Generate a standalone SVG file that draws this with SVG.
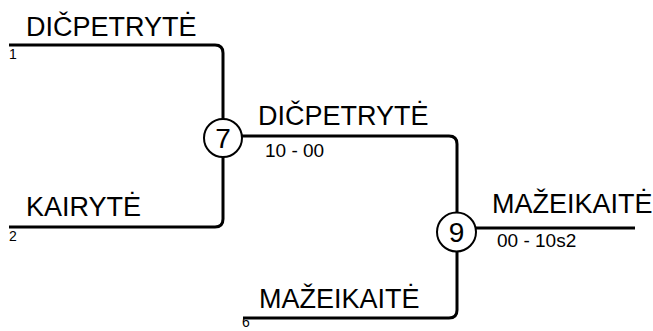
<svg xmlns="http://www.w3.org/2000/svg" width="653" height="331" viewBox="0 0 653 331">
<style>
.ln{fill:none;stroke:#000;stroke-width:3;stroke-linejoin:round}
.nd{fill:#fff;stroke:#000;stroke-width:2}
.nm{font-family:"Liberation Sans",Arial,sans-serif;font-size:27px;fill:#000}
.sc{font-family:"Liberation Sans",Arial,sans-serif;font-size:19px;fill:#000}
.sd{font-family:"Liberation Sans",Arial,sans-serif;font-size:14px;fill:#000}
.num{font-family:"Liberation Sans",Arial,sans-serif;font-size:28px;fill:#000;text-anchor:middle}
</style>
<rect width="653" height="331" fill="#fff"/>
<g id="connectors">
<path class="ln" d="M9,45 H215 Q223,45 223,53 V120"/>
<path class="ln" d="M9,227 H215 Q223,227 223,219 V156"/>
<path class="ln" d="M241,136 H449 Q457,136 457,144 V214"/>
<path class="ln" d="M243,318 H449 Q457,318 457,310 V250"/>
<path class="ln" d="M474,228 H635"/>
</g>
<g id="entry1">
<text class="nm" x="26" y="36">DIČPETRYTĖ</text>
<text class="sd" x="9" y="59">1</text>
</g>
<g id="entry2">
<text class="nm" x="26" y="216">KAIRYTĖ</text>
<text class="sd" x="9" y="241">2</text>
</g>
<g id="entry6">
<text class="nm" x="259" y="308">MAŽEIKAITĖ</text>
<text class="sd" x="242" y="327">6</text>
</g>
<g id="match7">
<circle class="nd" cx="223" cy="138" r="19"/>
<text class="num" x="223" y="148">7</text>
<text class="nm" x="258" y="125">DIČPETRYTĖ</text>
<text class="sc" x="265" y="157">10 - 00</text>
</g>
<g id="match9">
<circle class="nd" cx="456.5" cy="232" r="19.5"/>
<text class="num" x="456.5" y="242">9</text>
<text class="nm" x="492" y="213">MAŽEIKAITĖ</text>
<text class="sc" x="497" y="247">00 - 10s2</text>
</g>
</svg>
